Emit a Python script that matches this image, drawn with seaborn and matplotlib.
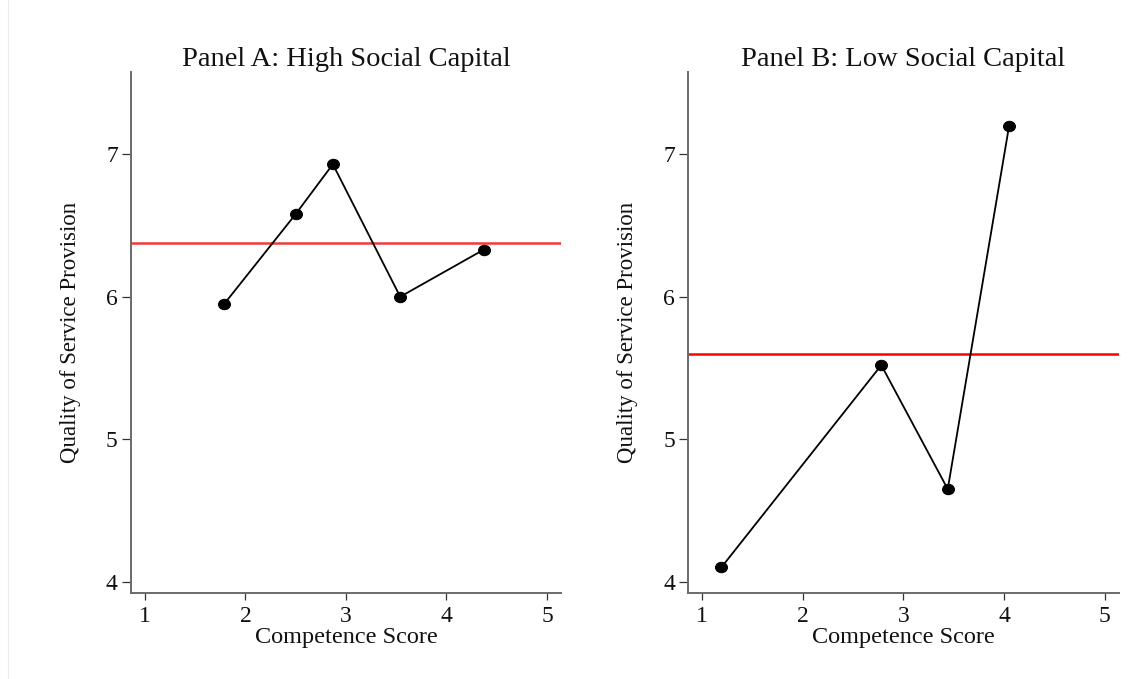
import matplotlib
matplotlib.use("Agg")
import matplotlib.pyplot as plt
from matplotlib.path import Path
from matplotlib.transforms import Affine2D
from matplotlib.lines import Line2D
import seaborn as sns
import pandas as pd

# Panel A: high social capital
competence_a = [1.79, 2.50, 2.87, 3.54, 4.37]
quality_a = [5.95, 6.58, 6.93, 6.00, 6.33]
mean_a = 6.38

# Panel B: low social capital
competence_b = [1.19, 2.78, 3.44, 4.05]
quality_b = [4.10, 5.52, 4.65, 7.20]
mean_b = 5.60

titles = ["Panel A: High Social Capital", "Panel B: Low Social Capital"]
x_label = "Competence Score"
y_label = "Quality of Service Provision"
x_ticks = [1, 2, 3, 4, 5]
y_ticks = [4, 5, 6, 7]

sns.set_theme(style="ticks")
plt.rcParams["font.family"] = ["Liberation Serif", "DejaVu Serif"]

fig = plt.figure(figsize=(11.46, 6.79), dpi=100)
fig.patch.set_facecolor("white")

# slightly wide dot marker
dot = Path.unit_circle().transformed(Affine2D().scale(1.15, 1.0))

panels = [
    (competence_a, quality_a, mean_a, "#f03a3a", [0.1143, 0.1271, 0.3752, 0.7664]),
    (competence_b, quality_b, mean_b, "#ff0000", [0.6006, 0.1271, 0.3756, 0.7664]),
]

for (xs, ys, ref, refcol, rect), title in zip(panels, titles):
    ax = fig.add_axes(rect)
    df = pd.DataFrame({"competence": xs, "quality": ys})
    ax.axhline(ref, color=refcol, lw=1.8, zorder=1)
    sns.lineplot(data=df, x="competence", y="quality", ax=ax, sort=False,
                 estimator=None, color="black", lw=1.3, marker=dot,
                 markersize=8.6, markeredgecolor="black", markerfacecolor="black",
                 zorder=3)
    ax.set_xlim(0.862, 5.139)
    ax.set_ylim(3.923, 7.575)
    ax.set_xticks(x_ticks)
    ax.set_yticks(y_ticks)
    ax.set_xticklabels([str(t) for t in x_ticks])
    ax.set_yticklabels([str(t) for t in y_ticks])
    for side in ("top", "right"):
        ax.spines[side].set_visible(False)
    for side in ("left", "bottom"):
        ax.spines[side].set_color("#6a6a6a")
        ax.spines[side].set_linewidth(1.4)
    ax.tick_params(axis="x", length=4.7, width=0.9, color="#333333",
                   labelsize=17, pad=5, labelcolor="#111111")
    ax.tick_params(axis="y", length=6.5, width=0.9, color="#333333",
                   labelsize=17, pad=3, labelcolor="#111111")
    ax.set_xlabel(x_label, fontsize=17.5, labelpad=0, color="#111111")
    ax.set_ylabel(y_label, fontsize=16.5, labelpad=18, color="#111111")
    ax.set_title(title, fontsize=20.5, pad=4.5, color="#111111")
    ax.set_facecolor("white")
    ax.grid(False)

fig.add_artist(Line2D([7.5 / 1146, 7.5 / 1146], [0, 1], transform=fig.transFigure,
                      color="#ececec", lw=0.8))

fig.savefig("out.png", dpi=100, facecolor="white")
